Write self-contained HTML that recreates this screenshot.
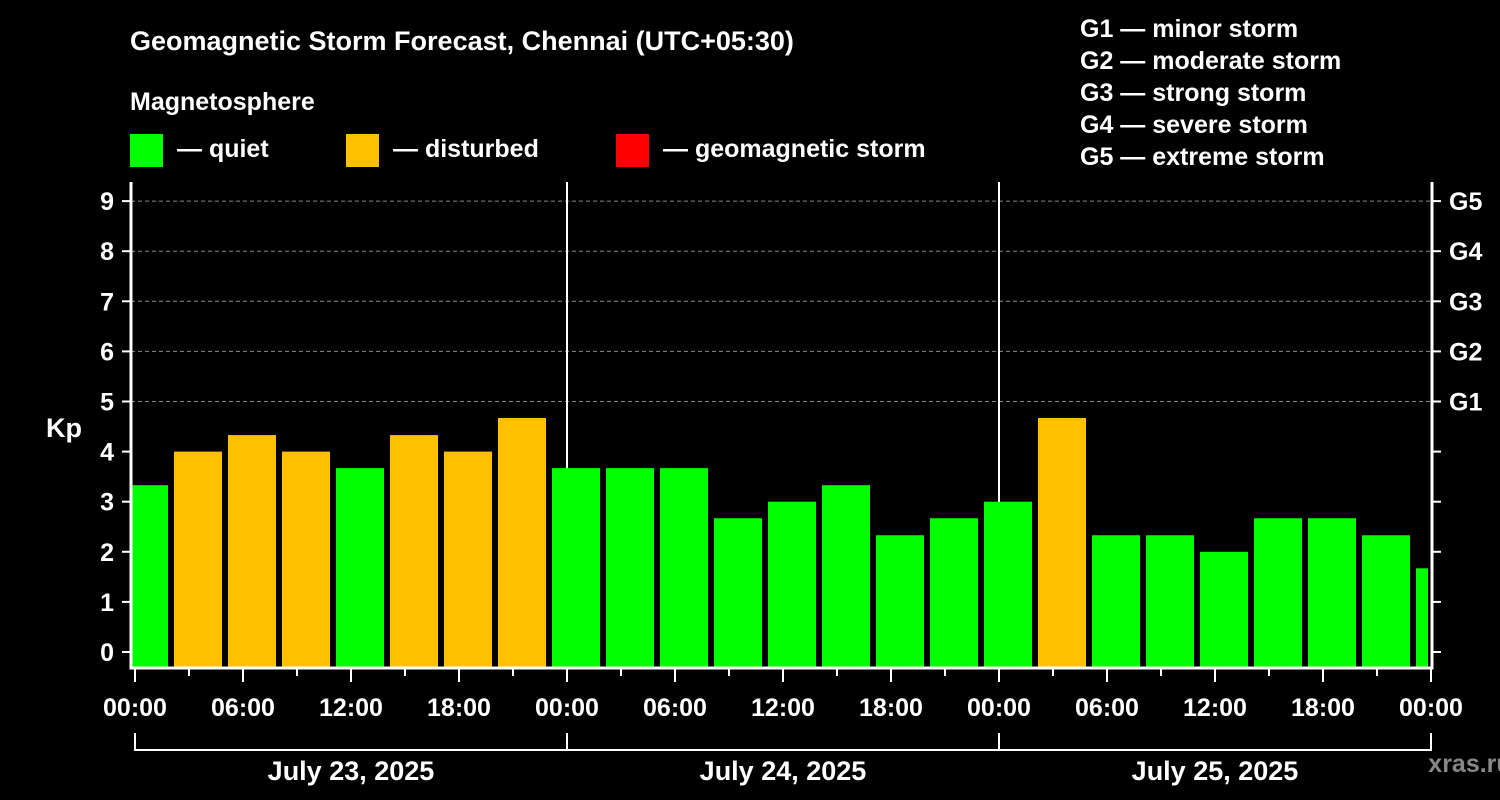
<!DOCTYPE html>
<html><head><meta charset="utf-8"><style>
body{margin:0;background:#000;width:1500px;height:800px;overflow:hidden}
svg{display:block;font-family:"Liberation Sans",Arial,sans-serif;font-weight:bold}
</style></head><body>
<svg id="c" width="1500" height="800">
<text x="130" y="50" fill="#fff" font-size="27">Geomagnetic Storm Forecast, Chennai (UTC+05:30)</text>
<text x="130" y="110" fill="#fff" font-size="25">Magnetosphere</text>
<g><rect x="130" y="134" width="33" height="33" fill="#00ff00"/><text x="177" y="157" fill="#fff" font-size="25">— quiet</text></g>
<g><rect x="346" y="134" width="33" height="33" fill="#ffc000"/><text x="393" y="157" fill="#fff" font-size="25">— disturbed</text></g>
<g><rect x="616" y="134" width="33" height="33" fill="#ff0000"/><text x="663" y="157" fill="#fff" font-size="25">— geomagnetic storm</text></g>
<g fill="#fff" font-size="25">
<text x="1080" y="37">G1 — minor storm</text><text x="1080" y="69">G2 — moderate storm</text><text x="1080" y="101">G3 — strong storm</text><text x="1080" y="133">G4 — severe storm</text><text x="1080" y="165">G5 — extreme storm</text>
</g>
<text x="64" y="437" fill="#fff" font-size="27" text-anchor="middle">Kp</text>
<text x="1470" y="772" fill="#888" font-size="25" text-anchor="middle">xras.ru</text>
<defs><clipPath id="pc"><rect x="132" y="182" width="1296" height="486"/></clipPath></defs>
<g id="grid"></g><g id="bars" clip-path="url(#pc)"></g><g id="axes"></g>
</svg>
<script>
const kpValues=[3.33,4,4.33,4,3.67,4.33,4,4.67,3.67,3.67,3.67,2.67,3,3.33,2.33,2.67,3,4.67,2.33,2.33,2,2.67,2.67,2.33,1.67];
const firstSlotHour=-1;
const yTicks=[0,1,2,3,4,5,6,7,8,9];
const gLabels=["G1","G2","G3","G4","G5"];
const gLevels=[5,6,7,8,9];
const xTickLabels=["00:00","06:00","12:00","18:00","00:00","06:00","12:00","18:00","00:00","06:00","12:00","18:00","00:00"];
const dateLabels=["July 23, 2025","July 24, 2025","July 25, 2025"];
const NS="http://www.w3.org/2000/svg";
const X0=135,HPX=18,Y0=652,UPX=50.1,TOP=182,BOT=668,L=131,R=1432;
const xs=h=>X0+h*HPX, ys=v=>Y0-v*UPX;
function mk(p,t,a){const e=document.createElementNS(NS,t);for(const k in a)e.setAttribute(k,a[k]);p.appendChild(e);return e;}
const grid=document.getElementById('grid'),bars=document.getElementById('bars'),axes=document.getElementById('axes');
gLevels.forEach(v=>{const e=mk(grid,'line',{x1:L,x2:R,y1:ys(v),y2:ys(v),stroke:'#888','stroke-dasharray':'4,3','stroke-width':1});

});
[1,2].forEach(d=>{const e=mk(grid,'line',{x1:xs(24*d),x2:xs(24*d),y1:TOP,y2:BOT,stroke:'#fff','stroke-width':2});

});
kpValues.forEach((v,i)=>{const h=firstSlotHour+3*i;const x=xs(h)+3;
const c=v>=5?'#ff0000':(v>=4?'#ffc000':'#00ff00');
const e=mk(bars,'rect',{x:x,y:ys(v),width:48,height:BOT-ys(v),fill:c});

});
mk(axes,'path',{d:`M${L} ${TOP}V${BOT}H${R}V${TOP}`,stroke:'#fff','stroke-width':3,fill:'none'});
yTicks.forEach(v=>{const y=ys(v);
mk(axes,'line',{x1:L-9,x2:L,y1:y,y2:y,stroke:'#fff','stroke-width':2});
mk(axes,'line',{x1:R,x2:R+9,y1:y,y2:y,stroke:'#fff','stroke-width':2});
const t=mk(axes,'text',{x:114,y:y+9,fill:'#fff','font-size':25,'text-anchor':'end'});t.textContent=v;

});
gLabels.forEach((g,i)=>{const t=mk(axes,'text',{x:1449,y:ys(gLevels[i])+9,fill:'#fff','font-size':25});t.textContent=g;

});
for(let h=0;h<=72;h+=3){mk(axes,'line',{x1:xs(h),x2:xs(h),y1:BOT,y2:BOT+(h%6==0?14:8),stroke:'#fff','stroke-width':2});}
xTickLabels.forEach((s,i)=>{const t=mk(axes,'text',{x:xs(6*i*1)*0+xs(i*6),y:716,fill:'#fff','font-size':25,'text-anchor':'middle'});t.textContent=s;

});
mk(axes,'path',{d:`M${xs(0)} 733V750H${xs(72)}V733M${xs(24)} 733V750M${xs(48)} 733V750`,stroke:'#fff','stroke-width':2,fill:'none'});
dateLabels.forEach((s,i)=>{const t=mk(axes,'text',{x:xs(24*i+12),y:780,fill:'#fff','font-size':27,'text-anchor':'middle'});t.textContent=s;

});
</script>
</body></html>
